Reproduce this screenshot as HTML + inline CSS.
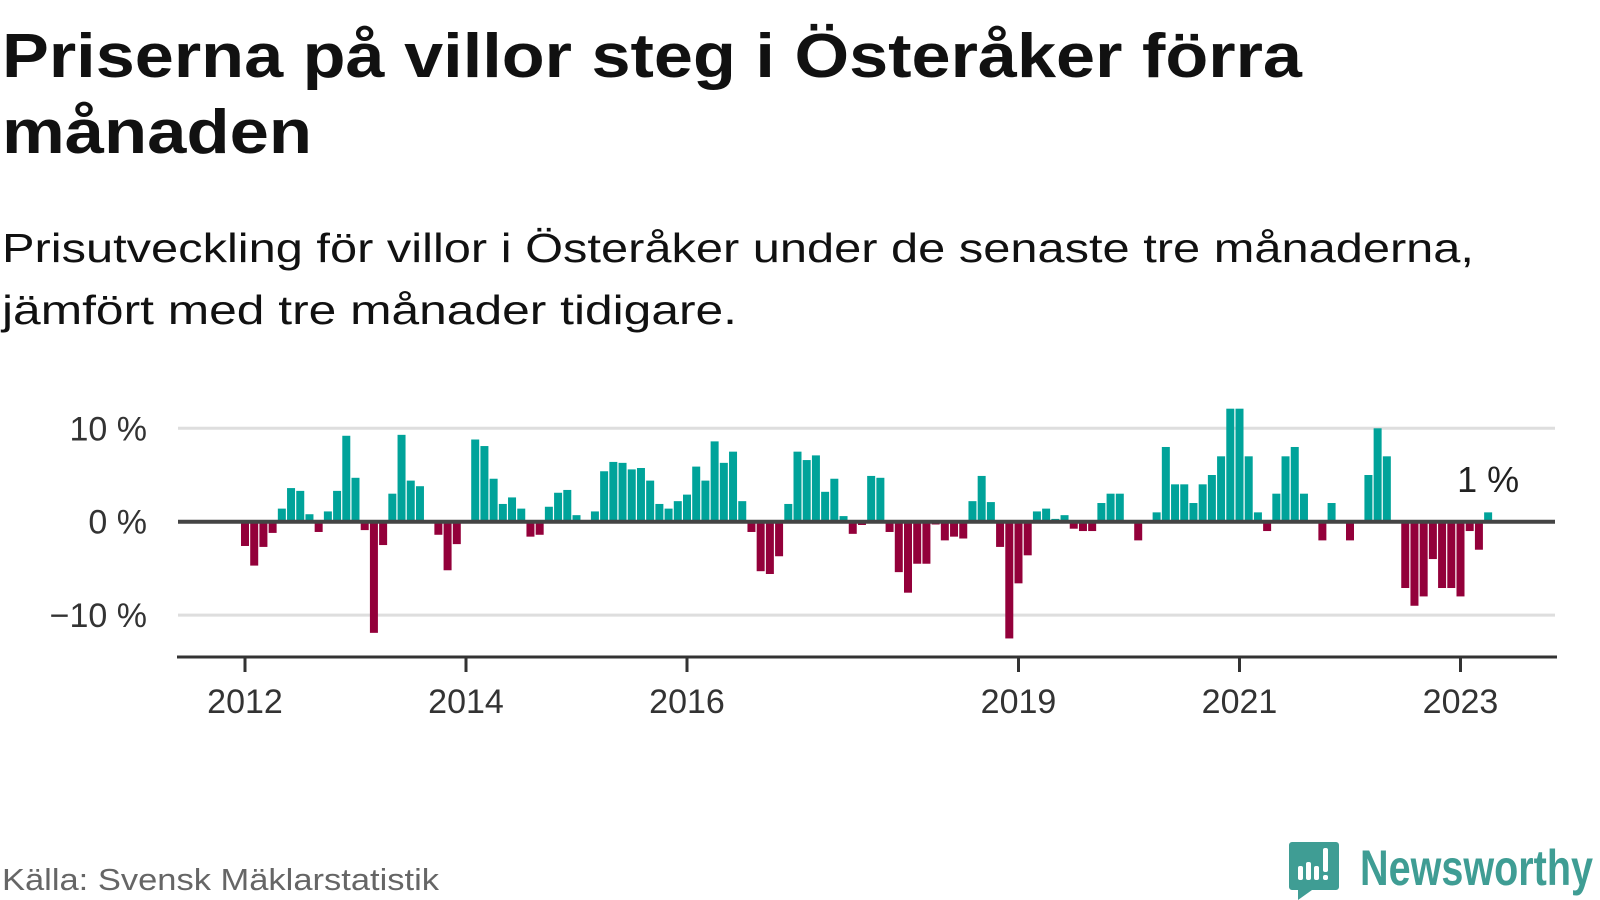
<!DOCTYPE html>
<html><head><meta charset="utf-8"><style>
html,body{margin:0;padding:0;background:#fff;}
svg{display:block;font-family:"Liberation Sans",sans-serif;}
</style></head><body>
<svg id="chart" width="1600" height="900" viewBox="0 0 1600 900">
<text x="2" y="77" font-size="62" font-weight="bold" fill="#111" textLength="1300" lengthAdjust="spacingAndGlyphs">Priserna på villor steg i Österåker förra</text>
<text x="2" y="153" font-size="62" font-weight="bold" fill="#111" textLength="310" lengthAdjust="spacingAndGlyphs">månaden</text>
<text x="2" y="262" font-size="41" fill="#111" textLength="1472" lengthAdjust="spacingAndGlyphs">Prisutveckling för villor i Österåker under de senaste tre månaderna,</text>
<text x="2" y="324" font-size="41" fill="#111" textLength="735" lengthAdjust="spacingAndGlyphs">jämfört med tre månader tidigare.</text>
<g id="plot"></g>
<text x="2" y="890" font-size="31" fill="#666" textLength="437" lengthAdjust="spacingAndGlyphs">Källa: Svensk Mäklarstatistik</text>
<g>
<path d="M1292 842 h44 a3 3 0 0 1 3 3 v42 a3 3 0 0 1 -3 3 h-24 l-14 10 v-10 h-6 a3 3 0 0 1 -3 -3 v-42 a3 3 0 0 1 3 -3z" fill="#3f9d94"/>
<rect x="1298" y="866" width="5" height="14" rx="2" fill="#fff"/>
<rect x="1306" y="862" width="5" height="18" rx="2" fill="#fff"/>
<rect x="1314" y="866" width="5" height="14" rx="2" fill="#fff"/>
<rect x="1323" y="848" width="5" height="24" rx="2" fill="#fff"/>
<rect x="1323" y="875" width="5" height="5" rx="2" fill="#fff"/>
<text x="1360" y="885" font-size="50" font-weight="bold" fill="#3f9d94" textLength="233" lengthAdjust="spacingAndGlyphs">Newsworthy</text>
</g>
</svg>
<script>
const values = [-2.6,-4.7,-2.7,-1.2,1.4,3.6,3.3,0.8,-1.1,1.1,3.3,9.2,4.7,-0.9,-11.9,-2.5,3.0,9.3,4.4,3.8,0,-1.4,-5.2,-2.4,0,8.8,8.1,4.6,1.9,2.6,1.4,-1.6,-1.4,1.6,3.1,
3.4,0.7,0,1.1,5.4,6.4,6.3,5.6,5.75,4.4,1.9,1.4,2.2,2.9,5.9,4.4,8.6,6.3,7.5,2.2,-1.1,-5.3,-5.6,-3.7,1.9,7.5,6.6,7.1,3.2,4.6,0.6,-1.3,-0.35,4.9,4.7,
-1.1,-5.4,-7.6,-4.5,-4.5,-0.3,-2.0,-1.6,-1.8,2.2,4.9,2.1,-2.7,-12.5,-6.6,-3.6,1.1,1.4,0.3,0.7,-0.75,-1.0,-1.0,2.0,3.0,3.0,0,-2.0,0,1.0,8.0,4.0,4.0,2.0,
4.0,5.0,7.0,12.1,12.1,7.0,1.0,-1.0,3.0,7.0,8.0,3.0,0,-2.0,2.0,0,-2.0,0,5.0,10.0,7.0,0,-7.1,-9.0,-8.0,-4.0,-7.1,-7.1,-8.0,-1.0,-3.0,1.0];
const yTicks = [10, 0, -10];
const yTickLabels = ["10 %", "0 %", "\u221210 %"];
const xTickYears = [2012, 2014, 2016, 2019, 2021, 2023];
const startYear = 2012;
const lastLabel = "1 %";

const NS = "http://www.w3.org/2000/svg";
const g = document.getElementById('plot');
const x = m => 245 + m * (110.5 / 12);
const y = v => 521.7 - v * 9.34;
function mk(tag, attrs){const e=document.createElementNS(NS,tag);for(const k in attrs)e.setAttribute(k,attrs[k]);g.appendChild(e);return e;}

yTicks.forEach((t,i)=>{
  if(t!==0){
    const l=mk('line',{x1:178,x2:1555,y1:y(t),y2:y(t),stroke:'#dedede','stroke-width':3});
    
    
  }
  const tx=mk('text',{x:147,y:y(t)+12,'font-size':34,fill:'#333','text-anchor':'end'});
  tx.textContent=yTickLabels[i];
  
  
});
values.forEach((v,m)=>{
  if(v===0) return;
  const r=mk('rect',{x:x(m)-4,width:8,y:Math.min(y(v),y(0)),height:Math.abs(y(v)-y(0)),fill:v>0?'#00a39a':'#93003a'});
  
  
});
const zl=mk('line',{x1:178,x2:1555,y1:y(0),y2:y(0),stroke:'#444','stroke-width':4});


const ax=mk('line',{x1:177,x2:1557,y1:657,y2:657,stroke:'#333','stroke-width':3});


xTickYears.forEach(yr=>{
  const px=x((yr-startYear)*12);
  const tk=mk('line',{x1:px,x2:px,y1:657,y2:672,stroke:'#333','stroke-width':3});
  
  
  const tx=mk('text',{x:px,y:713,'font-size':34,fill:'#333','text-anchor':'middle'});
  tx.textContent=String(yr);
  
  
});
const li=values.length-1;
const lab=mk('text',{x:x(li),y:492,'font-size':36,fill:'#222','text-anchor':'middle'});
lab.textContent=lastLabel;


</script>
</body></html>
